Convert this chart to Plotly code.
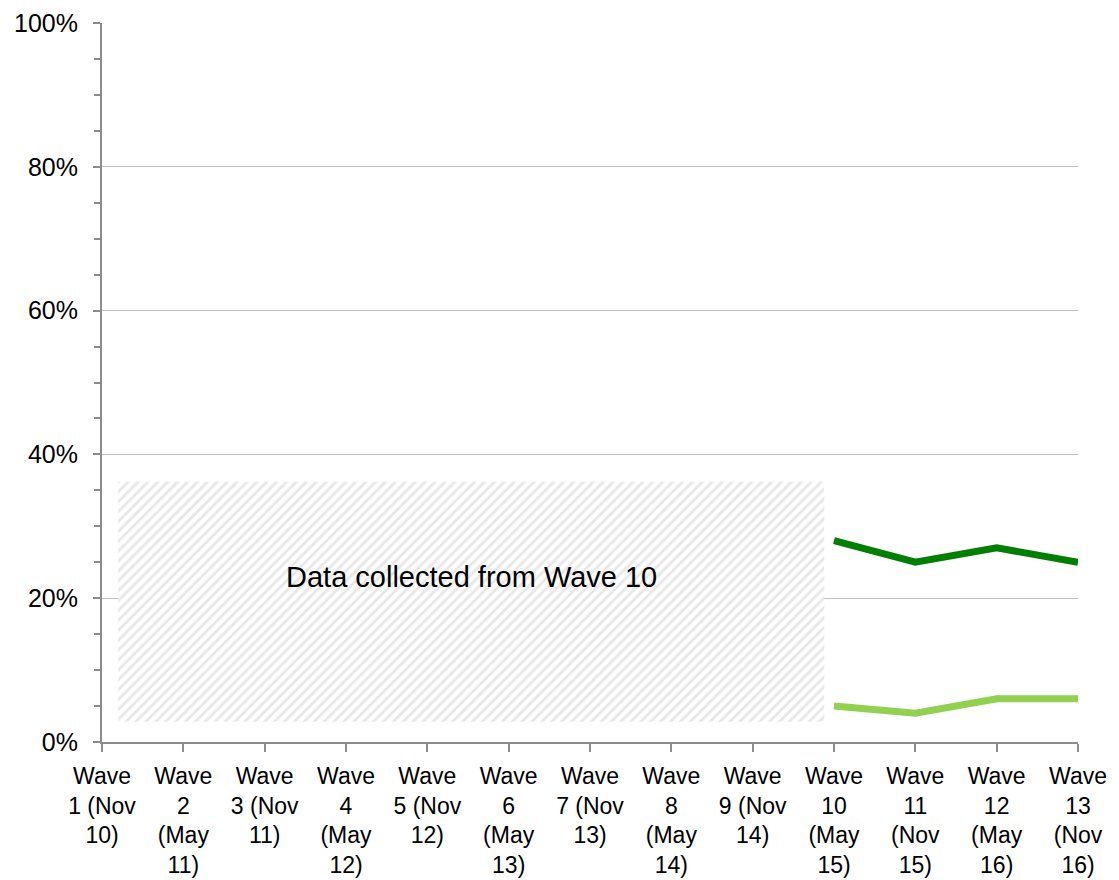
import plotly.graph_objects as go

# Survey waves (x axis categories)
waves = [
    "Wave<br>1 (Nov<br>10)", "Wave<br>2<br>(May<br>11)", "Wave<br>3 (Nov<br>11)",
    "Wave<br>4<br>(May<br>12)", "Wave<br>5 (Nov<br>12)", "Wave<br>6<br>(May<br>13)",
    "Wave<br>7 (Nov<br>13)", "Wave<br>8<br>(May<br>14)", "Wave<br>9 (Nov<br>14)",
    "Wave<br>10<br>(May<br>15)", "Wave<br>11<br>(Nov<br>15)", "Wave<br>12<br>(May<br>16)",
    "Wave<br>13<br>(Nov<br>16)",
]

# Series values (%), only collected from Wave 10 onwards
series_dark = [None] * 9 + [28, 25, 27, 25]
series_light = [None] * 9 + [5, 4, 6, 6]

# Shaded "no data" region extent (category index / percent)
box_x = [0.2, 8.88]
box_y = [2.8, 36.2]
box_label = "Data collected from Wave 10"

y_ticks = [0, 20, 40, 60, 80, 100]

xs = list(range(len(waves)))
FONT = "Liberation Sans, Arial, sans-serif"

fig = go.Figure()

fig.add_trace(go.Scatter(
    x=[box_x[0], box_x[1], box_x[1], box_x[0], box_x[0]],
    y=[box_y[0], box_y[0], box_y[1], box_y[1], box_y[0]],
    mode="lines", fill="toself", line=dict(width=0),
    fillcolor="white",
    fillpattern=dict(shape="/", fgcolor="#cfcfcf", bgcolor="white",
                     size=7, solidity=0.4),
    hoverinfo="skip", showlegend=False,
))

fig.add_trace(go.Scatter(
    x=xs, y=series_dark, mode="lines",
    line=dict(color="#008000", width=7),
    showlegend=False,
))
fig.add_trace(go.Scatter(
    x=xs, y=series_light, mode="lines",
    line=dict(color="#92D050", width=7),
    showlegend=False,
))

fig.add_annotation(
    x=sum(box_x) / 2, y=23, text=box_label, showarrow=False,
    font=dict(family=FONT, size=29, color="black"),
)

fig.update_layout(
    width=1119, height=880,
    margin=dict(l=102, r=41, t=23, b=138),
    plot_bgcolor="white", paper_bgcolor="white",
    font=dict(family=FONT, size=25, color="black"),
)

fig.update_xaxes(
    range=[0, 12], tickmode="array", tickvals=xs, ticktext=waves,
    showgrid=False, zeroline=False, automargin=False,
    showline=True, linecolor="#8c8c8c", linewidth=2,
    ticks="outside", ticklen=8, tickcolor="#8c8c8c", tickwidth=2,
    tickangle=0, ticklabelstandoff=4,
    tickfont=dict(family=FONT, size=23, color="black"),
)

fig.update_yaxes(
    range=[0, 100], tickmode="array", tickvals=y_ticks,
    ticktext=[f"{v}%" for v in y_ticks],
    showgrid=True, gridcolor="#c0c0c0", gridwidth=1, zeroline=False,
    showline=True, linecolor="#8c8c8c", linewidth=2, automargin=False,
    ticks="outside", ticklen=7, tickcolor="#8c8c8c", tickwidth=2,
    ticklabelstandoff=10,
    minor=dict(dtick=5, ticks="outside", ticklen=6, tickcolor="#8c8c8c",
               tickwidth=1.5, showgrid=False),
)

fig.write_html("out.html")
